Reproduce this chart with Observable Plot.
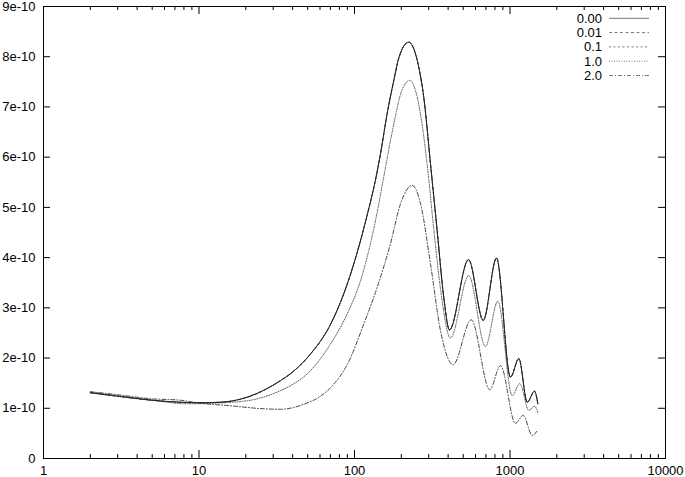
<!DOCTYPE html>
<html><head><meta charset="utf-8">
<script src="https://cdn.jsdelivr.net/npm/d3@7"></script>
<script src="https://cdn.jsdelivr.net/npm/@observablehq/plot@0.6"></script>
<style>body{margin:0;background:#fff}</style>
</head><body><div id="chart"></div>
<script>
// Series labels (legend order)
const seriesNames = ["0.00", "0.01", "0.1", "1.0", "2.0"];

// Curve for 0.00 (0.01 and 0.1 coincide with it in the picture); values in units of 1e-10
const ellTop = [2, 3, 5, 7.6, 10, 13.7, 20.4, 33.4, 38.8, 52.1, 70.1, 85.3, 104, 120.7, 136.5, 147, 162, 179, 193, 223, 259, 279, 308, 340, 375, 408, 541, 673, 819, 1007, 1140, 1291, 1438, 1510];
const powTop = [1.31, 1.24, 1.16, 1.12, 1.11, 1.12, 1.22, 1.55, 1.69, 2.08, 2.67, 3.28, 4.10, 4.85, 5.55, 6.07, 6.86, 7.53, 7.98, 8.29, 7.79, 7.19, 5.87, 4.54, 3.21, 2.56, 3.96, 2.75, 3.99, 1.62, 1.99, 1.12, 1.34, 1.09];

// Curve for 1.0
const ellMid = [2, 3, 5, 8.4, 12, 20.4, 33.4, 38.8, 52.1, 70.1, 89.8, 109.3, 126.7, 143.3, 153, 179, 200, 227, 255, 293, 324, 360, 414, 543, 695, 835, 1033, 1156, 1321, 1438, 1510];
const powMid = [1.32, 1.25, 1.16, 1.09, 1.10, 1.15, 1.35, 1.45, 1.75, 2.28, 2.88, 3.54, 4.28, 5.07, 5.55, 6.66, 7.3, 7.53, 7.15, 5.87, 4.54, 3.3, 2.40, 3.64, 2.23, 3.13, 1.25, 1.49, 0.96, 1.04, 0.92];

// Curve for 2.0
const ellLow = [2, 3, 4.88, 7.6, 10.2, 15.9, 26.1, 33.4, 47.2, 60.4, 73.6, 89.8, 114.8, 140, 170.4, 197.6, 235, 266, 308, 357, 431, 563, 741, 869, 1084, 1216, 1389, 1510];
const powLow = [1.33, 1.27, 1.19, 1.16, 1.10, 1.05, 0.99, 0.98, 1.08, 1.24, 1.48, 1.87, 2.68, 3.41, 4.28, 5.07, 5.44, 5.07, 3.88, 2.55, 1.87, 2.76, 1.37, 1.85, 0.70, 0.86, 0.46, 0.57];

// Ticks
const xMajorTicks = [1, 10, 100, 1000, 10000];
const xMajorLabels = ["1", "10", "100", "1000", "10000"];
const xMinorTicks = [2,3,4,5,6,7,8,9,20,30,40,50,60,70,80,90,200,300,400,500,600,700,800,900,2000,3000,4000,5000,6000,7000,8000,9000];
const yTicks = [0, 1, 2, 3, 4, 5, 6, 7, 8, 9];
const yTickLabels = ["0", "1e-10", "2e-10", "3e-10", "4e-10", "5e-10", "6e-10", "7e-10", "8e-10", "9e-10"];

// Styles (not data)
const dashes = {"0.00": null, "0.01": "3,2.5", "0.1": "2,2.5", "1.0": "1,1.5", "2.0": "4,2,1,2"};
const strokes = {"0.00": "#222", "0.01": "#444", "0.1": "#444", "1.0": "#555", "2.0": "#444"};

const sources = {"0.00": [ellTop, powTop], "0.01": [ellTop, powTop], "0.1": [ellTop, powTop], "1.0": [ellMid, powMid], "2.0": [ellLow, powLow]};

const W = 685, H = 477, mL = 43, mR = 20, mT = 6, mB = 19;
const innerW = W - mL - mR, innerH = H - mT - mB;

const lineMarks = seriesNames.slice().reverse().map(name => {
  const [xs, ys] = sources[name];
  const rows = xs.map((x, i) => ({ell: x, cl: ys[i]}));
  return Plot.line(rows, {x: "ell", y: "cl", curve: "monotone-x", stroke: strokes[name], strokeWidth: 1, strokeDasharray: dashes[name]});
});

const plot = Plot.plot({
  width: W, height: H,
  marginLeft: mL, marginRight: mR, marginTop: mT, marginBottom: mB,
  style: {fontFamily: "'Liberation Sans', Arial, sans-serif", fontSize: "13px", background: "#fff", color: "#000"},
  x: {type: "log", domain: [1, 10000]},
  y: {domain: [0, 9]},
  marks: [
    // inward ticks
    Plot.ruleX(xMajorTicks, {stroke: "#000", insetTop: innerH - 8}),
    Plot.ruleX(xMajorTicks, {stroke: "#000", insetBottom: innerH - 8}),
    Plot.ruleX(xMinorTicks, {stroke: "#000", insetTop: innerH - 4}),
    Plot.ruleX(xMinorTicks, {stroke: "#000", insetBottom: innerH - 4}),
    Plot.ruleY(yTicks, {stroke: "#000", insetRight: innerW - 7}),
    Plot.ruleY(yTicks, {stroke: "#000", insetLeft: innerW - 7}),
    Plot.axisX({ticks: xMajorTicks, tickSize: 0, tickPadding: 7, tickFormat: d => xMajorLabels[xMajorTicks.indexOf(d)], label: null}),
    Plot.axisY({ticks: yTicks, tickSize: 0, tickPadding: 8, tickFormat: d => yTickLabels[yTicks.indexOf(d)], label: null}),
    ...lineMarks,
    Plot.frame({stroke: "#000"})
  ]
});

// Legend (layout only)
const svg = d3.select(plot);
const lg = svg.append("g").attr("font-family", "'Liberation Sans', Arial, sans-serif").attr("font-size", 13);
seriesNames.forEach((name, i) => {
  const cy = 18.3 + i * 14.3;
  lg.append("text").attr("x", 602).attr("y", cy).attr("text-anchor", "end").attr("dy", "0.35em").attr("fill", "#000").text(name);
  lg.append("line").attr("x1", 609).attr("x2", 649).attr("y1", cy).attr("y2", cy)
    .attr("stroke", "#777").attr("stroke-width", 1).attr("stroke-dasharray", dashes[name]);
});

document.getElementById("chart").appendChild(plot);
</script>
</body></html>
